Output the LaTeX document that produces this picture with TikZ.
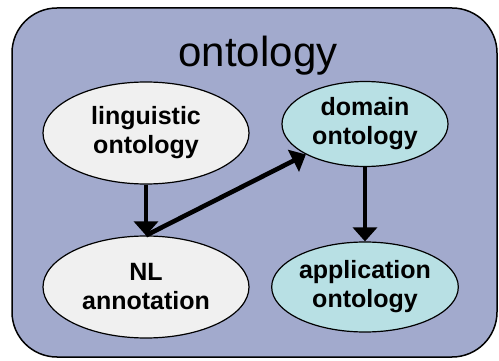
\documentclass[tikz,border=0pt]{standalone}
\usepackage{fontspec}
\setmainfont{Liberation Sans}
\usetikzlibrary{shapes.geometric,arrows.meta}
\definecolor{boxblue}{RGB}{162,170,205}
\definecolor{nodegray}{RGB}{240,240,240}
\definecolor{nodecyan}{RGB}{184,224,228}

\begin{document}
\begin{tikzpicture}[x=1pt,y=-1pt,
    onto/.style={ellipse,draw,line width=1.2pt,inner sep=0pt,align=center,
      font=\fontsize{25}{29}\selectfont\bfseries},
    link/.style={line width=4.6pt,-{Triangle[length=14pt,width=24pt]}}]
  \useasboundingbox (0,0) rectangle (499,361);
  \draw[fill=boxblue,line width=1.5pt,rounded corners=45pt] (12,8) rectangle (497,357);
  \node[anchor=base,font=\fontsize{42}{48}\selectfont] (title) at (258,67) {ontology};
  \node[onto,fill=nodegray,minimum width=206pt,minimum height=102pt] (ling) at (146,133) {linguistic\\ontology};
  \node[onto,fill=nodegray,minimum width=206pt,minimum height=102pt] (nl) at (146,287) {NL\\annotation};
  \node[onto,fill=nodecyan,minimum width=166pt,minimum height=85pt] (dom) at (365,124) {domain\\ontology};
  \node[onto,fill=nodecyan,minimum width=176pt,minimum height=90pt] (app) at (365,287) {application\\ontology};
  \draw[link] (ling.south) -- (nl.north);
  \draw[link] (nl.north) -- (dom.south west);
  \draw[link] (dom.south) -- (app.north);
\end{tikzpicture}
\end{document}
